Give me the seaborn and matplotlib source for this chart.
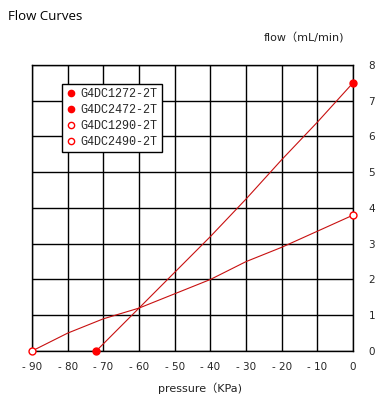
import matplotlib
matplotlib.use("Agg")
import matplotlib.pyplot as plt
from matplotlib.lines import Line2D
import seaborn as sns
import pandas as pd

# data
pressure_steep = [-72, -60, -50, -40, -30, -20, -10, 0]
flow_steep = [0.0, 1.2, 2.2, 3.2, 4.25, 5.35, 6.4, 7.5]
pressure_shallow = [-90, -80, -70, -60, -50, -40, -30, -20, -10, 0]
flow_shallow = [0.0, 0.5, 0.9, 1.2, 1.6, 2.0, 2.5, 2.9, 3.35, 3.8]
models = ["G4DC1272-2T", "G4DC2472-2T", "G4DC1290-2T", "G4DC2490-2T"]
x_ticks = list(range(-90, 1, 10))
y_ticks = list(range(0, 9))

sns.set_style("white")
plt.rcParams['font.family'] = ['DejaVu Sans', 'Noto Sans CJK SC']

line_color = "#c81010"
dot_color = "#ff0000"

fig = plt.figure(figsize=(3.92, 4.01), dpi=100)
ax = fig.add_axes([0.0816, 0.1247, 0.819, 0.7133])

steep = pd.DataFrame({"pressure": pressure_steep, "flow": flow_steep})
shallow = pd.DataFrame({"pressure": pressure_shallow, "flow": flow_shallow})

sns.lineplot(data=steep, x="pressure", y="flow", ax=ax, color=line_color,
             linewidth=0.8, zorder=3)
sns.lineplot(data=shallow, x="pressure", y="flow", ax=ax, color=line_color,
             linewidth=0.8, zorder=3)

# markers only at the end points
ends_steep = steep.iloc[[0, -1]]
ends_shallow = shallow.iloc[[0, -1]]
ax.plot(ends_steep["pressure"], ends_steep["flow"], "o", color=dot_color,
        markersize=5, clip_on=False, zorder=4)
ax.plot(ends_shallow["pressure"], ends_shallow["flow"], "o",
        markerfacecolor="white", markeredgecolor=dot_color,
        markeredgewidth=1.0, markersize=5, clip_on=False, zorder=4)

ax.set_xlim(-90, 0)
ax.set_ylim(0, 8)
ax.set_xticks(x_ticks)
ax.set_yticks(y_ticks)
ax.set_xticklabels([str(t).replace("-", "- ") if t < 0 else str(t) for t in x_ticks],
                   fontsize=7.5)
ax.set_yticklabels([str(t) for t in y_ticks], fontsize=7.5)
ax.yaxis.tick_right()
ax.tick_params(axis="both", length=0, pad=8)
ax.tick_params(axis="y", pad=11)
ax.grid(True, color="black", linewidth=1.0)
for s in ax.spines.values():
    s.set_color("black")
    s.set_linewidth(1.0)
ax.set_xlabel("")
ax.set_ylabel("")

fig.text(8 / 392, 1 - 17 / 401, "Flow Curves", fontsize=9.5, va="center", ha="left",
         color="black", family=["Open Sans", "DejaVu Sans"])
fig.text(304 / 392, 1 - 38 / 401, "flow（mL/min)", fontsize=8, va="center",
         ha="center", color="#222222")
fig.text(200 / 392, 1 - 388 / 401, "pressure（KPa)", fontsize=8, va="center",
         ha="center", color="#222222")

handles = [
    Line2D([], [], marker="o", linestyle="none", color=dot_color, markersize=4.5),
    Line2D([], [], marker="o", linestyle="none", color=dot_color, markersize=4.5),
    Line2D([], [], marker="o", linestyle="none", markerfacecolor="white",
           markeredgecolor=dot_color, markersize=4.5),
    Line2D([], [], marker="o", linestyle="none", markerfacecolor="white",
           markeredgecolor=dot_color, markersize=4.5),
]
leg = ax.legend(handles, models, loc="upper left", bbox_to_anchor=(0.095, 0.935),
                frameon=True, fancybox=False, framealpha=1, edgecolor="black",
                prop={"family": "Liberation Mono", "size": 8.5}, handlelength=0.8,
                handletextpad=0.4, labelspacing=0.35, borderpad=0.35,
                borderaxespad=0)
leg.get_frame().set_linewidth(1.0)

fig.savefig("out.png", dpi=100)
